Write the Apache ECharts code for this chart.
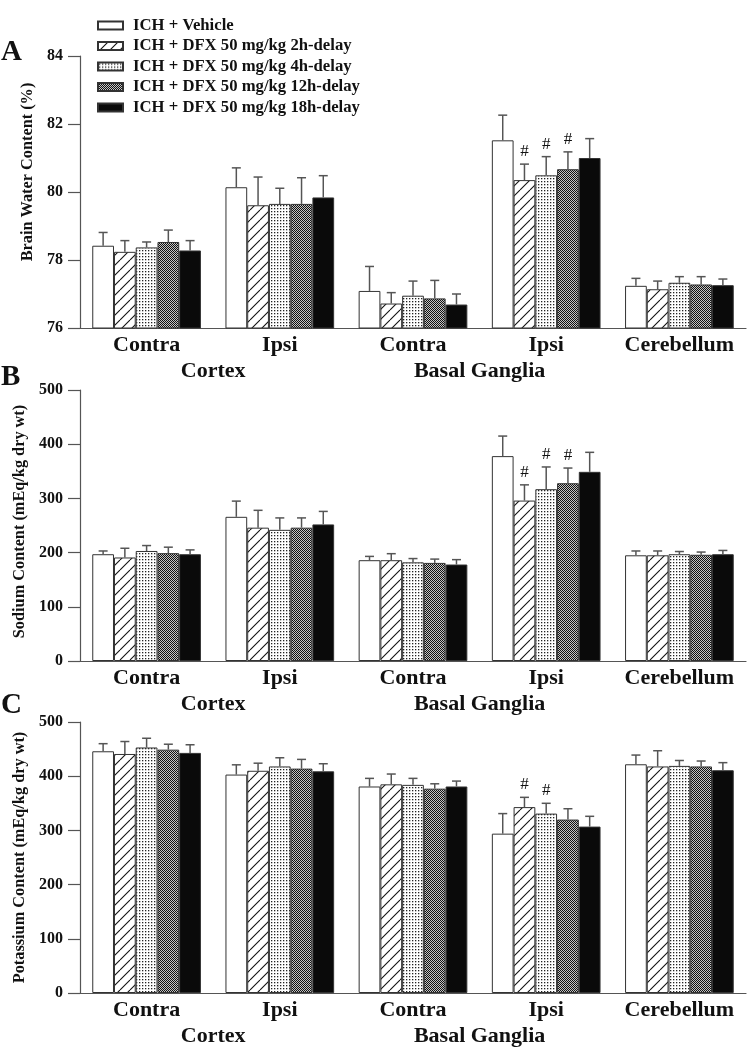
<!DOCTYPE html>
<html>
<head>
<meta charset="utf-8">
<script src="https://cdn.jsdelivr.net/npm/echarts@6/dist/echarts.min.js"></script>
<style>
html,body{margin:0;padding:0;background:#fff;}
#chart{width:749px;height:1050px;}
</style>
</head>
<body>
<div id="chart"></div>
<script>
// ---------- data ----------
const categories = ['Contra', 'Ipsi', 'Contra', 'Ipsi', 'Cerebellum'];
const regionLabels = ['Cortex', 'Basal Ganglia'];   // shown under category pairs
const groups = ['ICH + Vehicle', 'ICH + DFX 50 mg/kg 2h-delay', 'ICH + DFX 50 mg/kg 4h-delay',
                'ICH + DFX 50 mg/kg 12h-delay', 'ICH + DFX 50 mg/kg 18h-delay'];

// Panel A: Brain water content (%)
const waterVehicle = [78.42, 80.14, 77.09, 81.52, 77.24];
const water2h      = [78.24, 79.61, 76.72, 80.35, 77.14];
const water4h      = [78.37, 79.65, 76.95, 80.49, 77.33];
const water12h     = [78.53, 79.65, 76.87, 80.67, 77.28];
const water18h     = [78.28, 79.84, 76.69, 81.00, 77.26];
const waterErrVehicle = [0.39, 0.57, 0.72, 0.74, 0.22];
const waterErr2h      = [0.33, 0.83, 0.32, 0.47, 0.24];
const waterErr4h      = [0.16, 0.46, 0.43, 0.55, 0.18];
const waterErr12h     = [0.35, 0.77, 0.53, 0.51, 0.23];
const waterErr18h     = [0.29, 0.64, 0.31, 0.57, 0.18];

// Panel B: Sodium content (mEq/kg dry wt)
const sodiumVehicle = [197, 266, 186, 378, 195];
const sodium2h      = [191, 246, 186, 296, 195];
const sodium4h      = [203, 242, 182, 317, 197];
const sodium12h     = [199, 246, 181, 328, 196];
const sodium18h     = [197, 252, 178, 349, 197];
const sodiumErrVehicle = [6, 29, 7, 37, 8];
const sodiumErr2h      = [17, 32, 12, 29, 8];
const sodiumErr4h      = [10, 22, 7, 41, 5];
const sodiumErr12h     = [11, 18, 7, 28, 5];
const sodiumErr18h     = [8, 24, 9, 36, 7];

// Panel C: Potassium content (mEq/kg dry wt)
const potassiumVehicle = [446, 403, 381, 294, 422];
const potassium2h      = [441, 410, 385, 343, 418];
const potassium4h      = [453, 418, 384, 331, 419];
const potassium12h     = [449, 414, 377, 320, 418];
const potassium18h     = [443, 409, 381, 307, 411];
const potassiumErrVehicle = [14, 18, 15, 37, 17];
const potassiumErr2h      = [23, 14, 19, 18, 29];
const potassiumErr4h      = [17, 16, 12, 19, 10];
const potassiumErr12h     = [10, 17, 9, 20, 10];
const potassiumErr18h     = [15, 14, 10, 19, 14];

// '#' significance markers (1 = marked)
const sigNone   = [0, 0, 0, 0, 0];
const sigBGIpsi = [0, 0, 0, 1, 0];

// y-axis settings
const yMin = [76, 0, 0];
const yMax = [84, 500, 500];
const yInterval = [2, 100, 100];
const yNames = ['Brain Water Content (%)', 'Sodium Content (mEq/kg dry wt)', 'Potassium Content (mEq/kg dry wt)'];
const panelLetters = ['A', 'B', 'C'];

const means = [
  [waterVehicle, water2h, water4h, water12h, water18h],
  [sodiumVehicle, sodium2h, sodium4h, sodium12h, sodium18h],
  [potassiumVehicle, potassium2h, potassium4h, potassium12h, potassium18h]
];
const errs = [
  [waterErrVehicle, waterErr2h, waterErr4h, waterErr12h, waterErr18h],
  [sodiumErrVehicle, sodiumErr2h, sodiumErr4h, sodiumErr12h, sodiumErr18h],
  [potassiumErrVehicle, potassiumErr2h, potassiumErr4h, potassiumErr12h, potassiumErr18h]
];
const sigs = [
  [sigNone, sigBGIpsi, sigBGIpsi, sigBGIpsi, sigNone],
  [sigNone, sigBGIpsi, sigBGIpsi, sigBGIpsi, sigNone],
  [sigNone, sigBGIpsi, sigBGIpsi, sigNone, sigNone]
];

// ---------- patterns ----------
function makeTile(w, h, draw) {
  const c = document.createElement('canvas');
  c.width = w; c.height = h;
  const ctx = c.getContext('2d');
  draw(ctx, w, h);
  return c;
}
const hatch = makeTile(10, 10, (ctx, w, h) => {
  ctx.fillStyle = '#fff'; ctx.fillRect(0, 0, w, h);
  ctx.strokeStyle = '#111'; ctx.lineWidth = 1.1;
  [-10, 0, 10].forEach(o => {
    ctx.beginPath(); ctx.moveTo(o, h); ctx.lineTo(o + w, 0); ctx.stroke();
  });
});
const dots = makeTile(3, 3, (ctx, w, h) => {
  ctx.fillStyle = '#fff'; ctx.fillRect(0, 0, w, h);
  ctx.fillStyle = '#222'; ctx.fillRect(1, 1, 1.3, 1.3);
});
const checker = makeTile(2, 2, (ctx, w, h) => {
  ctx.fillStyle = '#c4c4c4'; ctx.fillRect(0, 0, w, h);
  ctx.fillStyle = '#111'; ctx.fillRect(0, 0, 1, 1); ctx.fillRect(1, 1, 1, 1);
});
const fills = [
  '#ffffff',
  { image: hatch, repeat: 'repeat' },
  { image: dots, repeat: 'repeat' },
  { image: checker, repeat: 'repeat' },
  '#0a0a0a'
];

// ---------- layout ----------
const FONT = "'Liberation Serif', 'Times New Roman', serif";
const gridTops = [56, 390, 722];
const gridHeights = [272, 271, 271];
const titleTops = [38, 363, 691];
const nameShift = [40, 8, 0];
const CAT_GAP = 0.184;

const grids = [], xAxes = [], yAxes = [], titles = [], series = [];
for (let p = 0; p < 3; p++) {
  grids.push({ left: 80, right: 1.5, top: gridTops[p], height: gridHeights[p] });
  xAxes.push({
    type: 'category', gridIndex: p, data: categories,
    axisLine: { show: true, onZero: false, lineStyle: { color: '#555', width: 1.2 } },
    axisTick: { show: false },
    axisLabel: { interval: 0, margin: 6, color: '#111', fontFamily: FONT, fontWeight: 'bold', fontSize: 22 }
  });
  // region labels (Cortex / Basal Ganglia) placed between category pairs
  xAxes.push({
    type: 'value', gridIndex: p, min: -0.5, max: 4.5, interval: 0.5,
    position: 'bottom', offset: 26,
    axisLine: { show: false, onZero: false }, axisTick: { show: false }, splitLine: { show: false },
    axisLabel: {
      margin: 6, color: '#111', fontFamily: FONT, fontWeight: 'bold', fontSize: 22,
      showMinLabel: true, showMaxLabel: true,
      formatter: v => (Math.abs(v - 0.5) < 1e-6 ? regionLabels[0] : (Math.abs(v - 2.5) < 1e-6 ? regionLabels[1] : ''))
    }
  });
  yAxes.push({
    type: 'value', gridIndex: p, min: yMin[p], max: yMax[p], interval: yInterval[p],
    name: yNames[p], nameLocation: 'middle', nameGap: 37, nameRotate: 90,
    nameTextStyle: { color: '#111', fontFamily: FONT, fontWeight: 'bold', fontSize: 16.3, padding: [0, 0, 0, nameShift[p]] },
    axisLine: { show: true, onZero: false, lineStyle: { color: '#555', width: 1.2 } },
    axisTick: { show: true, length: 12, lineStyle: { color: '#555', width: 1.2 } },
    splitLine: { show: false },
    axisLabel: { margin: 17, color: '#111', fontFamily: FONT, fontWeight: 'bold', fontSize: 16 }
  });
  titles.push({
    text: panelLetters[p], left: 1, top: titleTops[p], padding: 0,
    textStyle: { color: '#111', fontFamily: FONT, fontWeight: 'bold', fontSize: 29 }
  });

  for (let s = 0; s < 5; s++) {
    series.push({
      type: 'bar', name: groups[s], xAxisIndex: p * 2, yAxisIndex: p,
      data: means[p][s],
      barGap: '0%', barCategoryGap: (CAT_GAP * 100) + '%',
      itemStyle: { color: fills[s], borderColor: '#333', borderWidth: 1 },
      emphasis: { disabled: true },
      z: 2
    });
  }
  for (let s = 0; s < 5; s++) {
    const data = means[p][s].map((m, i) => [i, m, errs[p][s][i], sigs[p][s][i]]);
    series.push({
      type: 'custom', xAxisIndex: p * 2, yAxisIndex: p, z: 3,
      encode: { x: 0, y: 1 },
      data: data,
      silent: true,
      renderItem: (params, api) => {
        const x = api.value(0), m = api.value(1), e = api.value(2), sg = api.value(3);
        const base = api.coord([x, m]);
        const top = api.coord([x, m + e]);
        const band = api.size([1, 0])[0];
        const barW = band * (1 - CAT_GAP) / 5;
        const cx = base[0] + (s - 2) * barW;
        const children = [
          { type: 'line', shape: { x1: cx, y1: base[1], x2: cx, y2: top[1] },
            style: { stroke: '#555', lineWidth: 1.5 } },
          { type: 'line', shape: { x1: cx - 4.5, y1: top[1], x2: cx + 4.5, y2: top[1] },
            style: { stroke: '#555', lineWidth: 1.5 } }
        ];
        if (sg) {
          children.push({ type: 'text', x: cx, y: top[1] - 4,
            style: { text: '#', fill: '#111', font: '17px ' + FONT, align: 'center', verticalAlign: 'bottom' } });
        }
        return { type: 'group', children: children };
      }
    });
  }
}

const chart = echarts.init(document.getElementById('chart'), null, { renderer: 'canvas' });
chart.setOption({
  backgroundColor: '#fff',
  animation: false,
  title: titles,
  legend: {
    data: groups, orient: 'vertical', left: 97, top: 17, padding: 0,
    itemWidth: 25, itemHeight: 8, itemGap: 3.5,
    icon: 'rect', selectedMode: false,
    textStyle: { color: '#111', fontFamily: FONT, fontWeight: 'bold', fontSize: 16.7, lineHeight: 16, padding: [0, 0, 0, 5] }
  },
  grid: grids,
  xAxis: xAxes,
  yAxis: yAxes,
  series: series
});
</script>
</body>
</html>
